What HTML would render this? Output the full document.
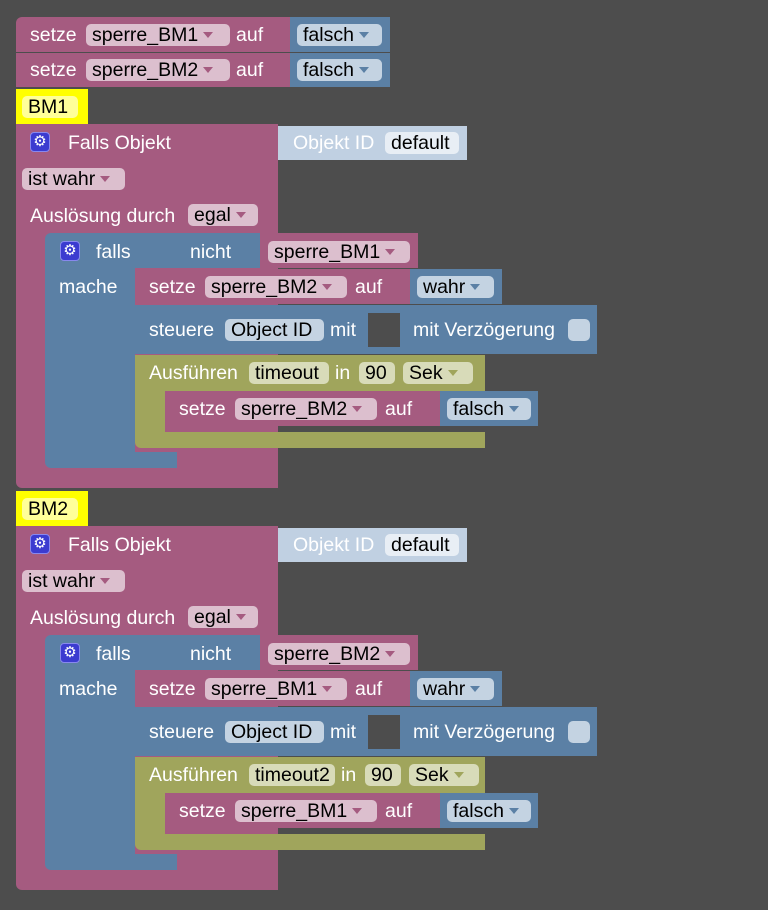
<!DOCTYPE html>
<html><head><meta charset="utf-8"><style>
body{margin:0;width:768px;height:910px;background:#4d4d4d;overflow:hidden;font-family:"Liberation Sans",Arial,sans-serif;position:relative}
.r{position:absolute}
.t{position:absolute;font-size:19.5px;color:#fff;white-space:nowrap;line-height:22px}
.p{position:absolute;border-radius:5px;font-size:19.5px;color:#000;line-height:22px;white-space:nowrap;padding-left:6px;box-sizing:border-box;overflow:hidden}
.ar{display:inline-block;width:0;height:0;border-left:5px solid transparent;border-right:5px solid transparent;margin-left:5px;vertical-align:3px}
</style></head><body>
<script>
const P='#a55b80',B='#5b80a5',O='#a0a55c',LB='#c0d0e2';
const PP='#dcbfce',BP='#c4d3e2',OP='#d8dbb9';
function R(x,y,w,h,c,br){document.write(`<div class="r" style="left:${x}px;top:${y}px;width:${w}px;height:${h}px;background:${c};border-radius:${br||0}"></div>`)}
function T(x,y,s,c){document.write(`<div class="t" style="left:${x}px;top:${y}px;color:${c||'#fff'}">${s}</div>`)}
function F(x,y,w,s,bg,arrow){document.write(`<div class="p" style="left:${x}px;top:${y}px;width:${w}px;height:22px;background:${bg}">${s}${arrow?`<span class="ar" style="border-top:6px solid ${arrow}"></span>`:''}</div>`)}
function G(x,y){document.write(`<div class="r" style="left:${x}px;top:${y}px;width:20px;height:20px;background:#3b3bd0;border-radius:4px;border:1px solid #8888ee;box-sizing:border-box;color:#fff;font-size:15px;line-height:18px;text-align:center">⚙</div>`)}
R(16,17,274,35,P,'6px 0 0 0');R(290,17,100,35,B);
T(30,24,'setze');F(86,24,144,'sperre_BM1',PP,P);T(236,24,'auf');F(297,24,85,'falsch',BP,B);
R(16,53,274,34,P);R(290,53,100,34,B);
T(30,59,'setze');F(86,59,144,'sperre_BM2',PP,P);T(236,59,'auf');F(297,59,85,'falsch',BP,B);
function group(o,n,m,tm){
 R(16,89+o,72,36,'#ffff00');F(22,96+o,56,n,'#ffff99');
 R(16,124+o,262,346,P);R(16,470+o,262,18,P,'0 0 0 6px');
 R(278,126+o,189,34,LB);T(293,132+o,'Objekt ID');F(385,132+o,74,'default','#e8eef5');
 G(30,132+o);T(68,132+o,'Falls Objekt');
 F(22,168+o,103,'ist wahr',PP,P);
 T(30,205+o,'Auslösung durch');F(188,204+o,70,'egal',PP,P);
 R(45,233+o,132,35,B,'6px 0 0 0');R(45,268+o,90,184,B);R(45,452+o,132,16,B,'0 0 0 6px');
 R(177,233+o,83,35,B);R(260,233+o,158,35,P);
 G(60,241+o);T(96,241+o,'falls');T(190,241+o,'nicht');F(268,241+o,142,'sperre_'+n,PP,P);
 T(59,276+o,'mache');
 R(135,269+o,275,35,P,'6px 0 0 0');R(410,269+o,92,35,B);
 T(149,276+o,'setze');F(205,276+o,142,'sperre_'+m,PP,P);T(355,276+o,'auf');F(417,276+o,77,'wahr',BP,B);
 R(135,305+o,462,49,B);R(368,313+o,32,34,'#4d4d4d');
 T(149,319+o,'steuere');F(225,319+o,99,'Object ID',BP);T(330,319+o,'mit');T(413,319+o,'mit Verzögerung');R(568,319+o,22,22,BP,'5px');
 R(135,355+o,350,36,O);R(135,391+o,30,41,O);R(135,432+o,350,16,O,'0 0 0 6px');
 T(149,362+o,'Ausführen');F(249,362+o,tm.length>7?86:80,tm,OP);
 let ix=tm.length>7?341:335;T(ix,362+o,'in');F(ix+24,362+o,36,'90',OP);F(ix+68,362+o,70,'Sek',OP,O);
 R(165,391+o,275,35,P,'6px 0 0 6px');R(440,391+o,98,35,B);
 T(179,398+o,'setze');F(235,398+o,142,'sperre_'+m,PP,P);T(385,398+o,'auf');F(447,398+o,84,'falsch',BP,B);
}
group(0,'BM1','BM2','timeout');
group(402,'BM2','BM1','timeout2');
</script>
</body></html>
